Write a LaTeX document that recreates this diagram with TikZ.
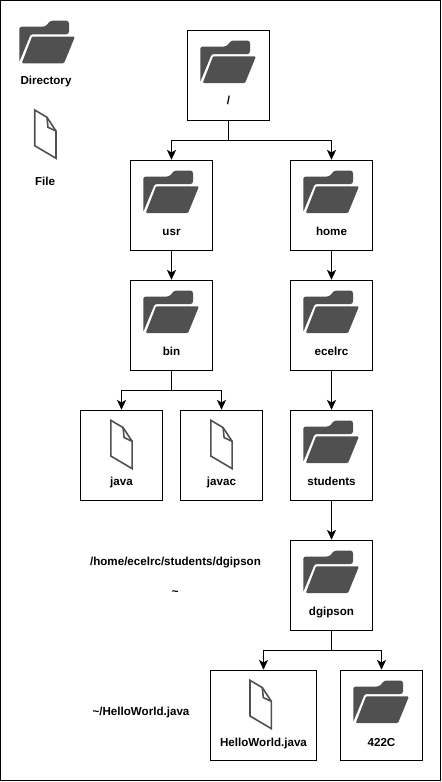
\documentclass[tikz,border=0pt]{standalone}
\usepackage{fontspec}
\setmainfont{Liberation Sans}
\usetikzlibrary{arrows.meta}
\tikzset{
  x=0.75pt,y=-0.75pt,
  boxnode/.style={draw=black,line width=0.85pt,fill=white,rectangle,inner sep=0pt,minimum height=67.5pt,minimum width=61.8pt},
  widebox/.style={boxnode,minimum width=79.8pt},
  lbl/.style={anchor=base,inner sep=0pt,font=\bfseries\fontsize{8.7}{11}\selectfont,text=black},
  arr/.style={draw=black,line width=0.85pt,-{Stealth[length=7.4pt,width=6.8pt,inset=2pt]}},
  lin/.style={draw=black,line width=0.85pt},
  pics/folder/.style={code={
    \fill[fill=iconfill,rounded corners=0.6pt]
      (0,41.4) -- (0,8.5) [rounded corners=2pt] -- (0,6.2) -- (26.3,6.2) -- (30.7,0.2) -- (49.7,0.2) -- (49.7,13.8) [rounded corners=0.6pt] -- (14,13.8)
      .. controls (11.5,13.8) and (10.8,15) .. (10,17.2) -- cycle;
    \fill[fill=iconfill,rounded corners=1pt]
      (2.4,42.9) -- (10.8,21.2) .. controls (12,18) and (12.4,16) .. (15,16) -- (55.7,16) -- (44.7,42.9) -- cycle;
  }},
  pics/filedoc/.style={code={
    \draw[draw=iconfill,line width=1.2pt,line join=miter]
      (0,0) -- (12.3,7.3) -- (21.3,21) -- (21.3,48.3) -- (0,35.7) -- cycle;
    \draw[draw=iconfill,line width=1.2pt,line join=miter]
      (12.3,7.3) -- (13.3,17.3) -- (21.3,21);
  }}
}
\definecolor{iconfill}{HTML}{505050}
\begin{document}
\begin{tikzpicture}
\useasboundingbox (0,0) rectangle (442,782);
\draw[lin] (0.5,0.5) rectangle (440.5,780.5);
% boxes
\node[boxnode] (root) at (228.5,75.3) {};
\node[boxnode] (usr) at (171.5,205.3) {};
\node[boxnode] (home) at (331.5,205.3) {};
\node[boxnode] (bin) at (171.5,325.3) {};
\node[boxnode] (ecelrc) at (331.5,325.3) {};
\node[boxnode] (java) at (121.5,455.3) {};
\node[boxnode] (javac) at (221.5,455.3) {};
\node[boxnode] (students) at (331.5,455.3) {};
\node[boxnode] (dgipson) at (331.5,585.3) {};
\node[widebox] (hello) at (263.5,715.3) {};
\node[boxnode] (cdir) at (381.5,715.3) {};
% icons
\pic at (19.3,20.5) {folder};
\pic at (34.7,110) {filedoc};
\pic at (200.3,40.3) {folder};
\pic at (143.3,170.3) {folder};
\pic at (303.3,170.3) {folder};
\pic at (143.3,290.3) {folder};
\pic at (303.3,290.3) {folder};
\pic at (110.8,420.3) {filedoc};
\pic at (210.8,420.3) {filedoc};
\pic at (303.3,420.3) {folder};
\pic at (303.3,550.3) {folder};
\pic at (250,680.3) {filedoc};
\pic at (353.3,680.3) {folder};
% labels
\node[lbl] (tdir) at (46,84.7) {Directory};
\node[lbl] (tfile) at (45,185) {File};
\node[lbl] (troot) at (228.5,104.7) {/};
\node[lbl] (tusr) at (171.5,235) {usr};
\node[lbl] (thome) at (331.5,235) {home};
\node[lbl] (tbin) at (171.5,355) {bin};
\node[lbl] (tecelrc) at (331.5,355) {ecelrc};
\node[lbl] (tjava) at (121.5,485) {java};
\node[lbl] (tjavac) at (221.5,485) {javac};
\node[lbl] (tstudents) at (331.5,485) {students};
\node[lbl] (tdgipson) at (331.5,615) {dgipson};
\node[lbl] (thello) at (263.5,746.5) {HelloWorld.java};
\node[lbl] (tc) at (381.5,746.5) {422C};
\node[lbl] (pathabs) at (175.5,565) {/home/ecelrc/students/dgipson};
\node[lbl] (pathtilde) at (175.3,595) {\textasciitilde};
\node[lbl] (pathfile) at (141,715) {\textasciitilde/HelloWorld.java};
% junctions
\coordinate (j1) at (228.5,140.3);
\coordinate (j2) at (171.5,390.3);
\coordinate (j3) at (331.5,650.3);
% connectors
\draw[lin] (root.south) -- (j1);
\draw[arr] (j1) -| (usr.north);
\draw[arr] (j1) -| (home.north);
\draw[arr] (usr.south) -- (bin.north);
\draw[arr] (home.south) -- (ecelrc.north);
\draw[lin] (bin.south) -- (j2);
\draw[arr] (j2) -| (java.north);
\draw[arr] (j2) -| (javac.north);
\draw[arr] (ecelrc.south) -- (students.north);
\draw[arr] (students.south) -- (dgipson.north);
\draw[lin] (dgipson.south) -- (j3);
\draw[arr] (j3) -| (hello.north);
\draw[arr] (j3) -| (cdir.north);
\end{tikzpicture}
\end{document}
